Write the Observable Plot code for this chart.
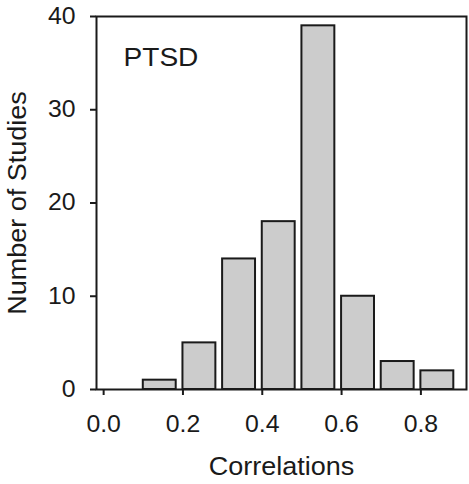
<!DOCTYPE html>
<html>
<head>
<meta charset="utf-8">
<script src="https://cdn.jsdelivr.net/npm/d3@7"></script>
<script src="https://cdn.jsdelivr.net/npm/@observablehq/plot@0.6"></script>
<style>
  html, body { margin: 0; padding: 0; background: #fff; }
  svg { font-family: "Liberation Sans", Arial, sans-serif; }
</style>
</head>
<body>
<div id="chart"></div>
<script>
const binStarts = [0.0, 0.1, 0.2, 0.3, 0.4, 0.5, 0.6, 0.7, 0.8];
const counts    = [0,   1,   5,   14,  18,  39,  10,  3,   2];
const xTicks = [0.0, 0.2, 0.4, 0.6, 0.8];
const yTicks = [0, 10, 20, 30, 40];
const panelLabel = "PTSD";
const xTitle = "Correlations";
const yTitle = "Number of Studies";

const barWidth = 0.083;
const data = binStarts.map((s, i) => ({x1: s, x2: s + barWidth, y: counts[i]})).filter(d => d.y > 0);

const ink = "#1a1a1a";
const chart = Plot.plot({
  width: 469,
  height: 484,
  marginLeft: 96,
  marginRight: 3,
  marginTop: 16,
  marginBottom: 95,
  style: {fontFamily: '"Liberation Sans", Arial, sans-serif', fontSize: "23px", background: "#fff", overflow: "visible"},
  x: {domain: [-0.018, 0.915]},
  y: {domain: [0, 40]},
  marks: [
    Plot.rectY(data, {x1: "x1", x2: "x2", y: "y", fill: "#cccccc", stroke: ink, strokeWidth: 2}),
    Plot.frame({stroke: ink, strokeWidth: 2}),
    Plot.axisX({ticks: xTicks, tickFormat: d3.format(".1f"), tickSize: 6, tickPadding: 20, fontSize: 23,
      stroke: ink, strokeWidth: 2, color: ink, label: null}),
    Plot.axisY({ticks: yTicks, tickSize: 6, tickPadding: 15, fontSize: 23,
      stroke: ink, strokeWidth: 2, color: ink, label: null}),
    Plot.text([xTitle], {frameAnchor: "bottom", lineAnchor: "middle", dy: 77, fontSize: 25, fill: ink}),
    Plot.text([yTitle], {frameAnchor: "left", lineAnchor: "middle", textAnchor: "middle", dx: -79, rotate: -90, fontSize: 25, fill: ink}),
    Plot.text([panelLabel], {frameAnchor: "top-left", lineAnchor: "middle", dx: 27, dy: 41, fontSize: 26, fill: ink})
  ]
});
document.getElementById("chart").appendChild(chart);
// ensure tick label font size and apply a slight horizontal widening like the reference typeface
chart.querySelectorAll('g[aria-label$="tick label"]').forEach(g => g.setAttribute("font-size", "23"));
chart.querySelectorAll("text").forEach(t => {
  const w = t.getComputedTextLength();
  if (w > 0) {
    t.setAttribute("textLength", (w * 1.08).toFixed(1));
    t.setAttribute("lengthAdjust", "spacingAndGlyphs");
  }
});
</script>
</body>
</html>
